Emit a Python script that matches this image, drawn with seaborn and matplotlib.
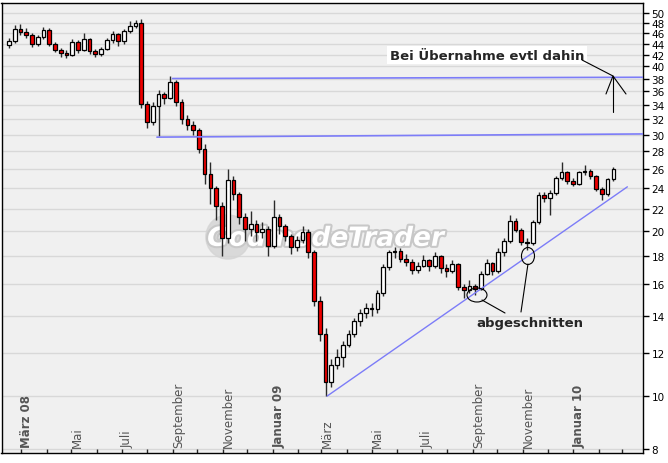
import numpy as np
import pandas as pd
import seaborn as sns
import matplotlib.pyplot as plt
import matplotlib.patheffects as pe
from matplotlib.patches import Ellipse
from matplotlib.ticker import FixedLocator, FixedFormatter, NullLocator

opens = [43.8, 44.5, 46.8, 46.3, 45.6, 44.0, 45.2, 46.6, 44.0, 42.8,
         42.3, 42.0, 44.3, 42.8, 44.8, 42.6, 42.2, 43.0, 44.6, 45.8,
         44.4, 46.4, 47.4, 48.0, 34.2, 31.6, 33.8, 35.6, 35.0, 37.4,
         34.4, 32.0, 31.2, 30.6, 28.3, 25.4, 24.0, 22.2, 19.4, 24.8,
         23.4, 21.2, 20.2, 20.6, 19.9, 20.2, 18.8, 21.2, 20.4, 19.6,
         18.7, 19.3, 19.9, 18.3, 14.9, 13.0, 10.6, 11.4, 11.8, 12.4,
         13.0, 13.7, 14.2, 14.5, 14.4, 15.4, 17.2, 18.3, 18.4, 17.8,
         17.6, 17.0, 17.3, 17.7, 17.3, 18.0, 17.1, 16.9, 17.4, 15.8,
         15.6, 15.9, 15.7, 16.7, 17.5, 16.9, 18.3, 19.2, 20.9, 20.1,
         19.1, 19.0, 20.8, 23.3, 23.0, 23.5, 25.0, 25.6, 24.7, 24.4,
         25.6, 25.8, 25.2, 23.9, 23.4, 24.9]
highs = [45.0, 47.6, 47.8, 46.9, 46.0, 45.6, 47.2, 47.0, 44.3, 43.2,
         42.8, 44.9, 44.6, 46.0, 45.0, 43.0, 43.4, 45.0, 46.4, 46.0,
         46.8, 48.4, 48.6, 48.8, 34.6, 34.4, 36.2, 35.9, 38.4, 37.8,
         34.8, 32.6, 31.8, 30.9, 28.8, 26.8, 24.2, 22.6, 26.0, 25.2,
         23.6, 21.6, 21.8, 21.0, 20.8, 20.4, 22.8, 21.5, 20.6, 19.8,
         19.6, 20.4, 20.2, 18.5, 15.2, 13.3, 11.7, 12.2, 12.6, 13.2,
         13.9, 14.4, 14.8, 14.8, 15.6, 17.4, 18.5, 18.7, 18.6, 18.2,
         17.8, 17.6, 18.1, 17.8, 18.3, 18.1, 17.4, 17.7, 17.5, 16.0,
         16.3, 16.0, 16.9, 17.8, 17.6, 18.6, 19.4, 21.4, 21.1, 20.3,
         19.4, 21.0, 23.6, 23.6, 23.8, 25.2, 26.8, 25.8, 25.0, 25.8,
         26.4, 26.0, 25.3, 24.1, 25.0, 26.2]
lows = [43.2, 44.2, 45.6, 45.0, 43.4, 43.6, 44.8, 43.5, 42.4, 41.6,
        41.4, 41.8, 42.3, 42.6, 42.2, 41.6, 41.7, 42.8, 44.2, 43.6,
        44.0, 46.0, 46.9, 33.6, 30.8, 31.2, 29.8, 34.2, 34.8, 33.8,
        31.4, 30.6, 30.0, 27.8, 24.4, 22.4, 21.0, 18.0, 19.0, 22.8,
        20.6, 19.2, 19.6, 19.2, 19.4, 18.0, 18.6, 19.8, 19.2, 18.2,
        18.4, 19.0, 17.9, 14.6, 12.6, 10.0, 10.4, 11.2, 11.3, 12.3,
        12.8, 13.4, 13.9, 14.0, 14.2, 15.2, 17.0, 17.9, 17.6, 17.3,
        16.7, 16.8, 17.2, 16.9, 17.1, 16.8, 16.5, 16.8, 15.6, 15.1,
        15.4, 15.3, 15.6, 16.6, 16.6, 16.8, 18.0, 19.0, 19.9, 18.9,
        18.5, 18.9, 20.6, 22.6, 21.4, 23.3, 24.8, 24.4, 24.2, 24.3,
        25.3, 24.9, 23.7, 22.8, 23.2, 24.7]
closes = [44.5, 46.8, 46.3, 45.6, 44.0, 45.2, 46.6, 44.0, 42.8, 42.3,
          42.0, 44.3, 42.8, 44.8, 42.6, 42.2, 43.0, 44.6, 45.8, 44.4,
          46.4, 47.4, 48.0, 34.2, 31.6, 33.8, 35.6, 35.0, 37.4, 34.4,
          32.0, 31.2, 30.6, 28.3, 25.4, 24.0, 22.2, 19.4, 24.8, 23.4,
          21.2, 20.2, 20.6, 19.9, 20.2, 18.8, 21.2, 20.4, 19.6, 18.7,
          19.3, 19.9, 18.3, 14.9, 13.0, 10.6, 11.4, 11.8, 12.4, 13.0,
          13.7, 14.2, 14.5, 14.4, 15.4, 17.2, 18.3, 18.4, 17.8, 17.6,
          17.0, 17.3, 17.7, 17.3, 18.0, 17.1, 16.9, 17.4, 15.8, 15.6,
          15.9, 15.7, 16.7, 17.5, 16.9, 18.3, 19.2, 20.9, 20.1, 19.1,
          19.0, 20.8, 23.3, 23.0, 23.5, 25.0, 25.6, 24.7, 24.4, 25.6,
          25.8, 25.2, 23.9, 23.4, 24.9, 26.0]
dates = pd.date_range('2008-02-15', periods=len(closes), freq='7D')

# Linien
resist_dates = ['2008-09-01', '2010-03-27']
resist_prices = [38.0, 38.2]
support_dates = ['2008-08-13', '2010-03-27']
support_prices = [29.7, 30.1]
trend_dates = ['2009-03-08', '2010-03-08']
trend_prices = [10.0, 24.1]

y_ticks = [8, 10, 12, 14, 16, 18, 20, 22, 24, 26, 28, 30, 32, 34, 36, 38,
           40, 42, 44, 46, 48, 50]
month_labels = ['März 08', '', 'Mai', '', 'Juli', '', 'September', '',
                'November', '', 'Januar 09', '', 'März', '', 'Mai', '',
                'Juli', '', 'September', '', 'November', '', 'Januar 10',
                '', '']
month_ticks = pd.date_range('2008-03-01', '2010-03-01', freq='MS')

sns.set_style('white')
plt.rcParams['font.family'] = ['DejaVu Sans']

fig = plt.figure(figsize=(6.68, 4.64), dpi=100)
ax = fig.add_axes([1.5 / 668, 10 / 464, 641.5 / 668, 450 / 464])
ax.set_facecolor('#f0f0f0')
ax.set_yscale('log')
ax.set_ylim(7.87, 52.2)
ax.set_xlim(pd.Timestamp('2008-02-06'), pd.Timestamp('2010-03-27'))

for t in y_ticks:
    ax.axhline(t, color='#d8d8d8', lw=1, zorder=0)

# Wasserzeichen
ax.add_patch(Ellipse((0.353, 0.48), 0.069, 0.098, transform=ax.transAxes,
                     color='#d4d4d4', alpha=0.8, zorder=0.5))
ax.text(0.505, 0.476, 'GodmodeTrader', transform=ax.transAxes, fontsize=19,
        fontweight='bold', style='italic', color='white', ha='center',
        va='center', zorder=0.6,
        path_effects=[pe.withStroke(linewidth=3, foreground='#c8c8c8')])

# Kerzen
o = np.array(opens)
c = np.array(closes)
ax.vlines(dates, lows, highs, color='#2a2a2a', lw=1, zorder=2)
body_col = np.where(c < o, '#ee0000', 'white')
ax.bar(dates, np.maximum(np.abs(c - o), 0.08), bottom=np.minimum(o, c),
       width=4.5, color=body_col, edgecolor='black', lw=0.9, zorder=3)

line_col = '#7c7cf8'
sns.lineplot(x=pd.to_datetime(resist_dates), y=resist_prices, ax=ax,
             color=line_col, lw=1.2, zorder=4)
sns.lineplot(x=pd.to_datetime(support_dates), y=support_prices, ax=ax,
             color=line_col, lw=1.2, zorder=4)
sns.lineplot(x=pd.to_datetime(trend_dates), y=trend_prices, ax=ax,
             color=line_col, lw=1, zorder=4)
ax.set_xlabel('')
ax.set_ylabel('')

# Achsen
ax.yaxis.tick_right()
ax.yaxis.set_major_locator(FixedLocator(y_ticks))
ax.yaxis.set_major_formatter(FixedFormatter([str(t) for t in y_ticks]))
ax.yaxis.set_minor_locator(NullLocator())
ax.tick_params(axis='y', direction='out', length=4, width=1, pad=2,
               labelsize=7.5, colors='black')
ax.set_xticks(month_ticks)
ax.tick_params(axis='x', direction='in', length=3, width=1, bottom=True,
               labelbottom=False)
for sp in ax.spines.values():
    sp.set_color('black')
    sp.set_linewidth(1)

trans = ax.get_xaxis_transform()
for d, lab in zip(month_ticks, month_labels):
    if lab:
        bold = any(ch.isdigit() for ch in lab)
        ax.text(d + pd.Timedelta(days=7), 0.013, lab, transform=trans,
                rotation=90, ha='center', va='bottom', fontsize=8.5,
                color='#555555', fontweight='bold' if bold else 'normal')

# Annotationen
ax.text(0.757, 0.884, 'Bei Übernahme evtl dahin', transform=ax.transAxes,
        fontsize=9.5, fontweight='bold', ha='center', va='center', zorder=6,
        bbox=dict(facecolor='white', edgecolor='none', pad=2))
ax.plot([0.905, 0.9532], [0.8733, 0.8378], transform=ax.transAxes,
        color='black', lw=0.8, zorder=6)
ax.plot([0.9532, 0.9532], [0.7578, 0.8378], transform=ax.transAxes,
        color='black', lw=0.8, zorder=6)
ax.plot([0.9423, 0.9532, 0.9735], [0.7978, 0.8378, 0.7978],
        transform=ax.transAxes, color='black', lw=0.8, zorder=6)

ax.text(0.824, 0.289, 'abgeschnitten', transform=ax.transAxes, fontsize=9.5,
        fontweight='bold', ha='center', va='center', zorder=6)
ax.add_patch(Ellipse((0.7412, 0.3511), 0.0312, 0.0311, transform=ax.transAxes,
                     fill=False, edgecolor='black', lw=0.8, zorder=6))
ax.add_patch(Ellipse((0.8207, 0.4378), 0.0203, 0.0378, transform=ax.transAxes,
                     fill=False, edgecolor='black', lw=0.8, zorder=6))
ax.plot([0.749, 0.7849], [0.340, 0.3111], transform=ax.transAxes,
        color='black', lw=0.8, zorder=6)
ax.plot([0.8207, 0.8098], [0.42, 0.3133], transform=ax.transAxes,
        color='black', lw=0.8, zorder=6)

plt.savefig('out.png', dpi=100)
